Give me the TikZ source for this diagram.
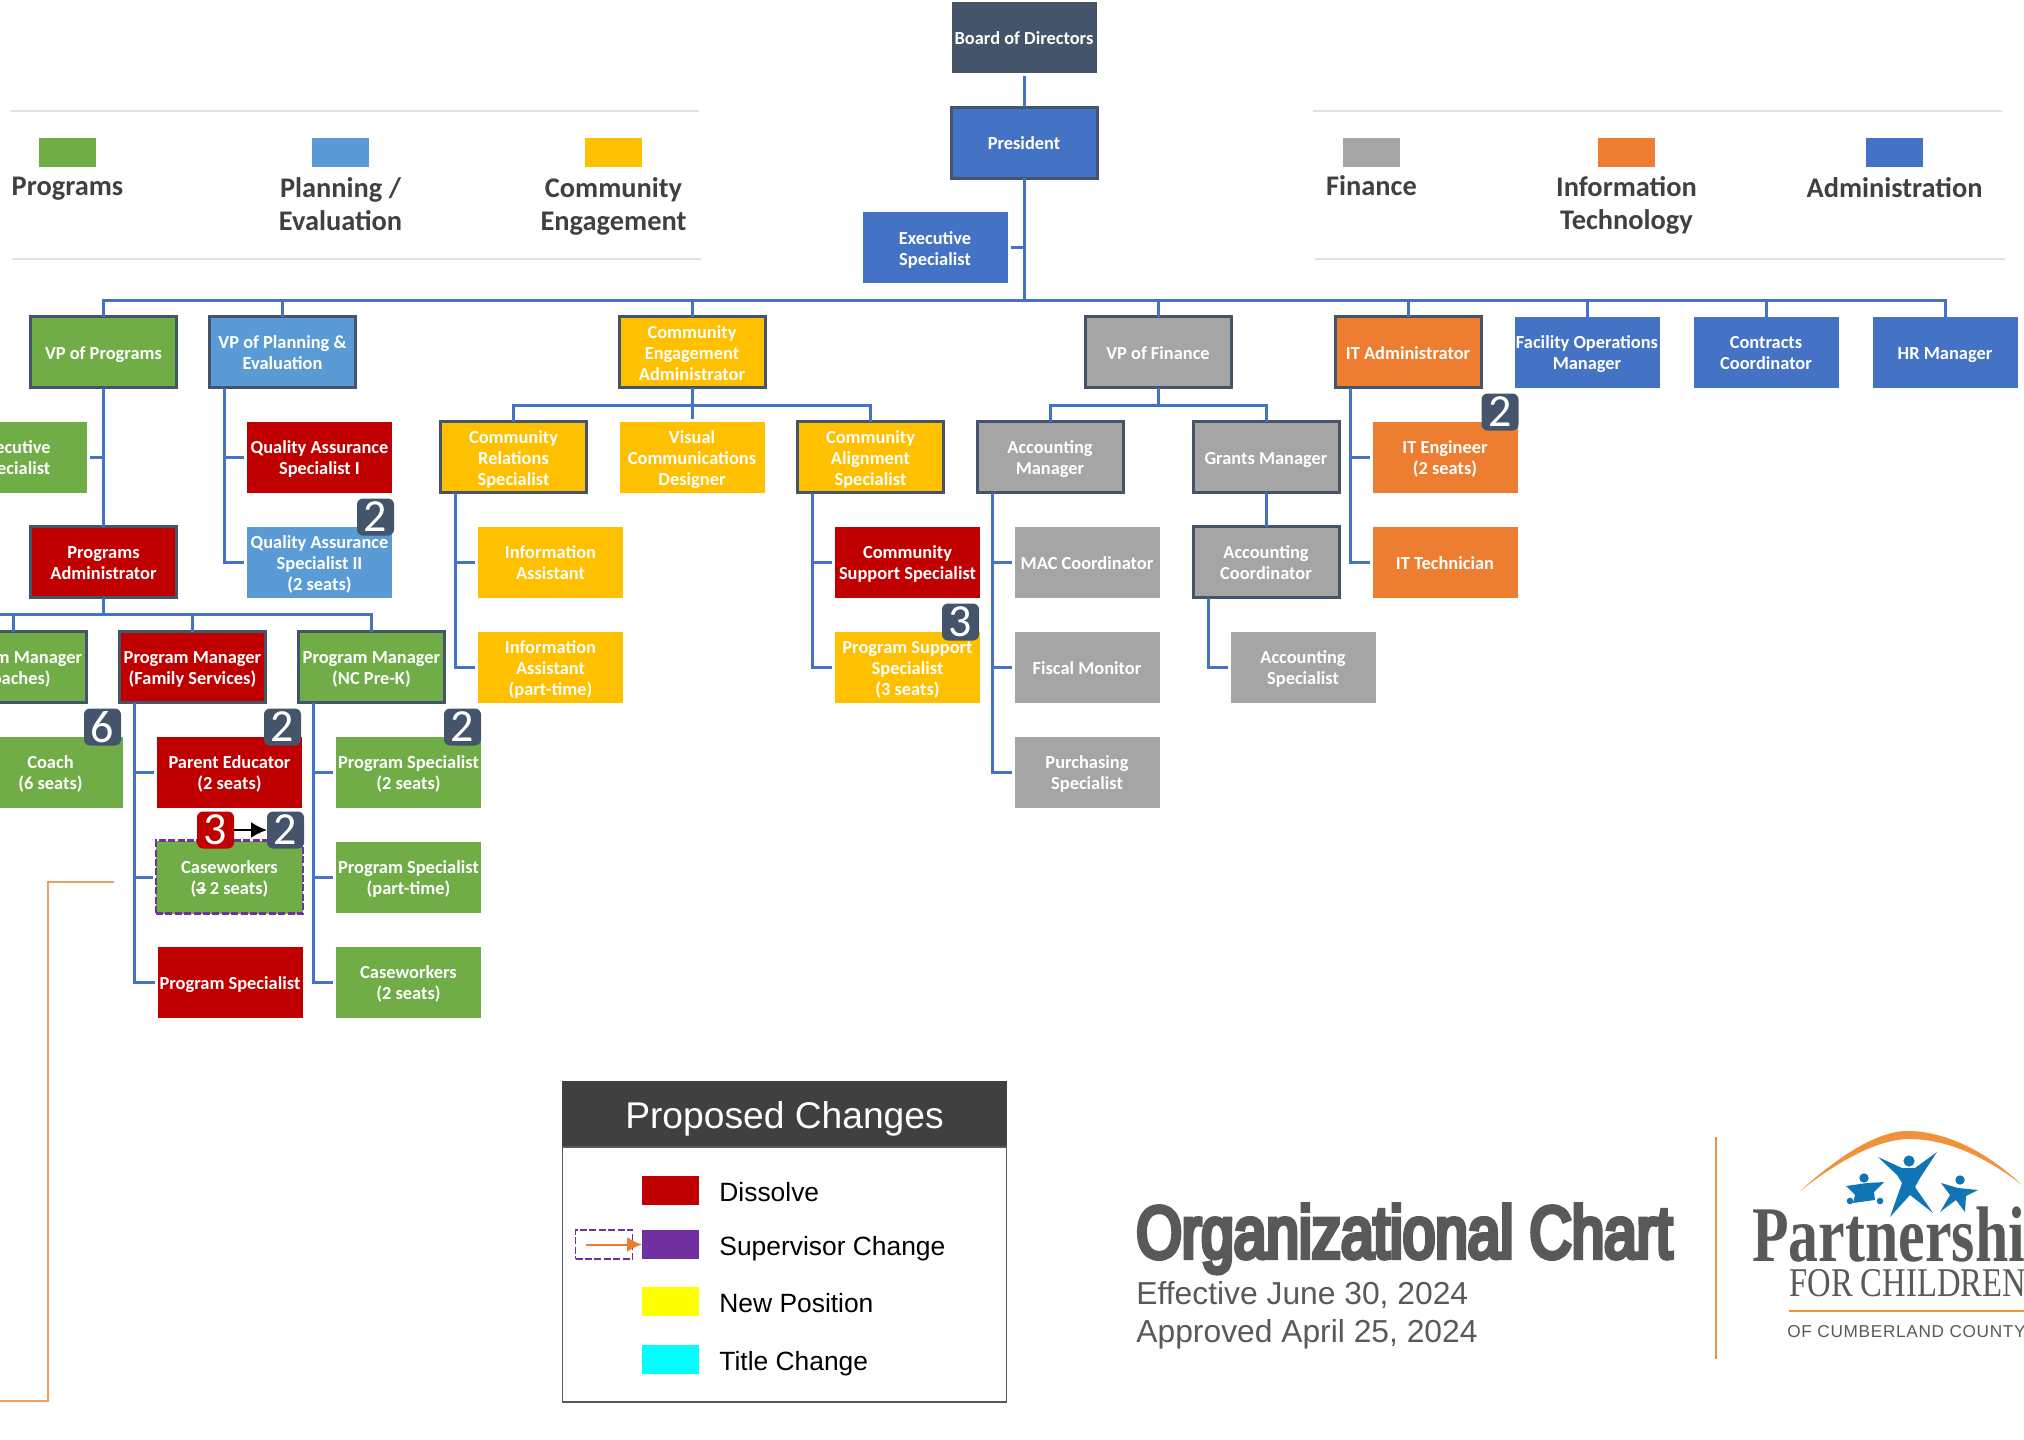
\documentclass[tikz,border=0pt]{standalone}
\usepackage{fontspec}
\setmainfont{Carlito}
\newfontfamily\arialfont{Liberation Sans}
\newfontfamily\heavyfont[FakeBold=6,FakeStretch=0.79]{Liberation Sans}
\newfontfamily\logofont{Liberation Serif}
\newfontfamily\countyfont[LetterSpace=4]{Liberation Sans}
\usetikzlibrary{positioning,arrows.meta}
\definecolor{progcol}{HTML}{70AD47}
\definecolor{plancol}{HTML}{5B9BD5}
\definecolor{comcol}{HTML}{FFC000}
\definecolor{fincol}{HTML}{A5A5A5}
\definecolor{techcol}{HTML}{ED7D31}
\definecolor{admincol}{HTML}{4472C4}
\definecolor{redcol}{HTML}{C00000}
\definecolor{slatecol}{HTML}{44546A}
\definecolor{purplecol}{HTML}{7030A0}
\definecolor{darkcol}{HTML}{404040}
\definecolor{greycol}{HTML}{595959}
\definecolor{rulecol}{HTML}{E2E2E2}
\definecolor{logoblue}{HTML}{0F75B5}
\definecolor{logoorange}{HTML}{F0923B}
\definecolor{keyyellowcol}{HTML}{FFFF00}
\definecolor{keycyancol}{HTML}{00FFFF}
\tikzstyle{box}=[rectangle,minimum width=72.5pt,minimum height=35.5pt,text width=72.5pt,inner sep=0pt,outer sep=0pt,align=flush center,text=white,font=\bfseries\fontsize{9.2}{10.5}\selectfont,execute at begin node={\rule{0pt}{10.6pt}},execute at end node=\strut]
\tikzstyle{progbox}=[box,fill=progcol]
\tikzstyle{planbox}=[box,fill=plancol]
\tikzstyle{combox}=[box,fill=comcol]
\tikzstyle{finbox}=[box,fill=fincol]
\tikzstyle{techbox}=[box,fill=techcol]
\tikzstyle{adminbox}=[box,fill=admincol]
\tikzstyle{redbox}=[box,fill=redcol]
\tikzstyle{lead}=[draw=slatecol,line width=1.5pt,minimum width=73pt,minimum height=35.5pt]
\tikzstyle{moved}=[draw=purplecol,line width=1.2pt,dash pattern=on 3.5pt off 1.2pt]
\tikzstyle{badge}=[rectangle,rounded corners=3pt,fill=slatecol,text=white,minimum size=18.5pt,inner sep=0pt,outer sep=0pt,anchor=south east,yshift=-4.5pt,font=\fontsize{23}{23}\selectfont]
\tikzstyle{link}=[draw=admincol,line width=1.5pt]
\tikzstyle{stub}=[link,shorten >=1.5pt]
\tikzstyle{swatch}=[rectangle,minimum width=28.5pt,minimum height=14.5pt,inner sep=0pt,outer sep=0pt]
\tikzstyle{cat}=[align=center,inner sep=0pt,text=darkcol,font=\bfseries\fontsize{14.2}{16.6}\selectfont]
\tikzstyle{keytext}=[inner sep=0pt,text=black,text height=14pt,text depth=2.6pt,font=\arialfont\fontsize{13.2}{16}\selectfont]
\def\rowdist{17pt}
\def\sibdist{16.5pt}
\def\childshift{18.5pt}
\def\colshift{89.25pt}
\begin{document}
\begin{tikzpicture}[x=0.5pt,y=-0.5pt]
	\path[use as bounding box,clip] (0,0) rectangle (2024,1440);

	% top of the chart
	\node[box,fill=slatecol] (board) at (1024,37.5) {Board of Directors};
	\node[adminbox,lead,below=\rowdist of board] (pres) {President};
	\node[adminbox,below=\rowdist of pres,xshift=-44.5pt] (execspec) {Executive\\Specialist};
	\coordinate (topbus) at (1024,300);

	% first level
	\node[progbox,lead] (vpprog) at (103.5,352) {VP of Programs};
	\node[planbox,lead,right=\sibdist of vpprog] (vpplan) {VP of Planning \&\\Evaluation};
	\node[combox,lead] (comadmin) at (692,352) {Community\\Engagement\\Administrator};
	\node[finbox,lead] (vpfin) at (1158,352) {VP of Finance};
	\node[techbox,lead] (itadmin) at (1408,352) {IT Administrator};
	\node[adminbox] (facility) at (1587,352) {Facility Operations\\Manager};
	\node[adminbox] (contracts) at (1766,352) {Contracts\\Coordinator};
	\node[adminbox] (hrmgr) at (1945,352) {HR Manager};

	% programs
	\node[progbox,below=\rowdist of vpprog,xshift=-44.5pt] (progexec) {Executive\\Specialist};
	\node[redbox,lead,below=\rowdist of progexec,xshift=44.5pt] (progadmin) {Programs\\Administrator};
	\node[redbox,lead,below=\rowdist of progadmin,xshift=44.5pt] (mgrfam) {Program Manager\\(Family Services)};
	\node[progbox,lead,left=\sibdist of mgrfam] (mgrcoach) {Program Manager\\(Coaches)};
	\node[progbox,lead,right=\sibdist of mgrfam] (mgrprek) {Program Manager\\(NC Pre-K)};
	\node[progbox,below=\rowdist of mgrcoach,xshift=\childshift] (coach) {Coach\\(6 seats)};
	\node[redbox,below=\rowdist of mgrfam,xshift=\childshift] (parented) {Parent Educator\\(2 seats)};
	\node[progbox,moved,below=\rowdist of parented,minimum width=73.5pt,minimum height=36.5pt,yshift=0.5pt] (casefam) {Caseworkers\\(\makebox[0pt][l]{\rule[0.22em]{0.5em}{0.09em}}3 2 seats)};
	\node[redbox] (specfam) at (230,982.5) {Program Specialist};
	\node[progbox,below=\rowdist of mgrprek,xshift=\childshift] (specprek) {Program Specialist\\(2 seats)};
	\node[progbox,below=\rowdist of specprek] (specpart) {Program Specialist\\(part-time)};
	\node[progbox,below=\rowdist of specpart] (caseprek) {Caseworkers\\(2 seats)};

	% planning
	\node[redbox,below=\rowdist of vpplan,xshift=\childshift] (qaone) {Quality Assurance\\Specialist I};
	\node[planbox,below=\rowdist of qaone] (qatwo) {Quality Assurance\\Specialist II\\(2 seats)};

	% community engagement
	\node[combox,lead,below=\rowdist of comadmin,xshift=-\colshift] (comrel) {Community\\Relations\\Specialist};
	\node[combox,below=\rowdist of comadmin] (visual) {Visual\\Communications\\Designer};
	\node[combox,lead,below=\rowdist of comadmin,xshift=\colshift] (comalign) {Community\\Alignment\\Specialist};
	\node[combox,below=\rowdist of comrel,xshift=\childshift] (infoa) {Information\\Assistant};
	\node[combox,below=\rowdist of infoa] (infob) {Information\\Assistant\\(part-time)};
	\node[redbox,below=\rowdist of comalign,xshift=\childshift] (comsup) {Community\\Support Specialist};
	\node[combox,below=\rowdist of comsup] (progsup) {Program Support\\Specialist\\(3 seats)};

	% finance
	\node[finbox,lead,below=\rowdist of vpfin,xshift=-54pt] (accmgr) {Accounting\\Manager};
	\node[finbox,lead,below=\rowdist of vpfin,xshift=54pt] (grants) {Grants Manager};
	\node[finbox,below=\rowdist of accmgr,xshift=\childshift] (mac) {MAC Coordinator};
	\node[finbox,below=\rowdist of mac] (fiscal) {Fiscal Monitor};
	\node[finbox,below=\rowdist of fiscal] (purchase) {Purchasing\\Specialist};
	\node[finbox,lead,below=\rowdist of grants] (acccoord) {Accounting\\Coordinator};
	\node[finbox,below=\rowdist of acccoord,xshift=\childshift] (accspec) {Accounting\\Specialist};

	% information technology
	\node[techbox,below=\rowdist of itadmin,xshift=\childshift] (iteng) {IT Engineer\\(2 seats)};
	\node[techbox,below=\rowdist of iteng] (ittech) {IT Technician};

	% seat counts
	\node[badge] (bcoach) at ([xshift=-1pt]coach.north east) {6};
	\node[badge] (bparent) at ([xshift=-0.5pt]parented.north east) {2};
	\node[badge] (bspec) at (specprek.north east) {2};
	\node[badge] (bqa) at ([xshift=1pt]qatwo.north east) {2};
	\node[badge] (biteng) at ([xshift=0.5pt]iteng.north east) {2};
	\node[badge] (bsup) at ([xshift=-0.5pt]progsup.north east) {3};
	\node[badge,yshift=0.5pt] (bnew) at ([xshift=0.5pt]casefam.north east) {2};
	\node[badge,fill=redcol,anchor=east,yshift=4.5pt,left=16.5pt of bnew] (bold) {3};

	% connections
	\draw[link,shorten <=1.5pt] (board) -- (pres);
	\draw[link] (pres) -- (topbus);
	\draw[link,shorten <=1.5pt] (execspec) -- (execspec -| pres);
	\foreach \n in {vpprog,vpplan,comadmin,vpfin,itadmin,facility,contracts,hrmgr}
		\draw[link] (topbus) -| (\n.north);

	\coordinate (progbus) at (103.5,614);
	\coordinate (progend) at (-20,614);
	\draw[link] (vpprog) -- (progadmin);
	\draw[link,shorten <=1.5pt] (progexec) -- (progexec -| vpprog);
	\draw[link] (progadmin) -- (progbus);
	\draw[link] (progbus) -- (progend);
	\foreach \n in {mgrcoach,mgrfam,mgrprek}
		\draw[link] (progbus) -| (\n.north);

	\foreach \n in {parented,casefam,specfam}
		\draw[stub] ([xshift=7.5pt]mgrfam.south west) |- (\n.west);
	\foreach \n in {specprek,specpart,caseprek}
		\draw[stub] ([xshift=7.5pt]mgrprek.south west) |- (\n.west);
	\foreach \n in {qaone,qatwo}
		\draw[stub] ([xshift=7.5pt]vpplan.south west) |- (\n.west);
	\foreach \n in {infoa,infob}
		\draw[stub] ([xshift=7.5pt]comrel.south west) |- (\n.west);
	\foreach \n in {comsup,progsup}
		\draw[stub] ([xshift=7.5pt]comalign.south west) |- (\n.west);
	\foreach \n in {mac,fiscal,purchase}
		\draw[stub] ([xshift=7.5pt]accmgr.south west) |- (\n.west);
	\draw[stub] ([xshift=7.5pt]acccoord.south west) |- (accspec.west);
	\foreach \n in {iteng,ittech}
		\draw[stub] ([xshift=7.5pt]itadmin.south west) |- (\n.west);

	\coordinate (combus) at (692,405);
	\draw[stub] (comadmin) -- (visual);
	\foreach \n in {comrel,comalign}
		\draw[link] (combus) -| (\n.north);
	\coordinate (finbus) at (1158,405);
	\draw[link] (vpfin) -- (finbus);
	\foreach \n in {accmgr,grants}
		\draw[link] (finbus) -| (\n.north);
	\draw[link] (grants) -- (acccoord);

	\draw[-{Latex[length=8pt,width=8pt]},line width=1pt] (bold) -- (bnew);

	% stray line
	\coordinate (strayfrom) at (114,882);
	\coordinate (straybend) at (48,882);
	\coordinate (straylow) at (48,1401);
	\coordinate (strayend) at (0,1401);
	\draw[techcol!75,line width=0.8pt] (strayfrom) -- (straybend) -- (straylow) -- (strayend);

	% department key
	\draw[rulecol,line width=1pt] (10,111) -- (699,111);
	\draw[rulecol,line width=1pt] (12,259) -- (701,259);
	\draw[rulecol,line width=1pt] (1313,111) -- (2002,111);
	\draw[rulecol,line width=1pt] (1315,259) -- (2005,259);
	\node[swatch,fill=progcol] (catprog) at (67.5,152.5) {};
	\node[swatch,fill=plancol] (catplan) at (340.5,152.5) {};
	\node[swatch,fill=comcol] (catcom) at (613.5,152.5) {};
	\node[swatch,fill=fincol] (catfin) at (1371.5,152.5) {};
	\node[swatch,fill=techcol] (cattech) at (1626.5,152.5) {};
	\node[swatch,fill=admincol] (catadmin) at (1894.5,152.5) {};
	\node[cat,below=5pt of catprog] (lblprog) {Programs};
	\node[cat,below=5pt of catplan] (lblplan) {Planning /\\Evaluation};
	\node[cat,below=5pt of catcom] (lblcom) {Community\\Engagement};
	\node[cat,below=4pt of catfin] (lblfin) {Finance};
	\node[cat,below=4.5pt of cattech] (lbltech) {Information\\Technology};
	\node[cat,below=5pt of catadmin] (lbladmin) {Administration};

	% proposed changes
	\node[rectangle,fill=darkcol,draw=darkcol,minimum width=222pt,minimum height=33pt,inner sep=0pt,outer sep=0pt,text=white,text height=18pt,font=\arialfont\fontsize{18.6}{20}\selectfont] (keyhead) at (784.5,1114) {Proposed Changes};
	\node[rectangle,draw=greycol,line width=0.8pt,minimum width=222pt,minimum height=127.5pt,inner sep=0pt,outer sep=0pt,below=0pt of keyhead] (keybody) {};
	\node[swatch,fill=redcol] (keyred) at (670.5,1190.5) {};
	\node[swatch,fill=purplecol] (keypurple) at (670.5,1244.5) {};
	\node[swatch,fill=keyyellowcol] (keyyellow) at (670.5,1301.5) {};
	\node[swatch,fill=keycyancol] (keycyan) at (670.5,1359.5) {};
	\node[keytext,right=10pt of keyred] (txtred) {Dissolve};
	\node[keytext,right=10pt of keypurple] (txtpurple) {Supervisor Change};
	\node[keytext,right=10pt of keyyellow] (txtyellow) {New Position};
	\node[keytext,right=10pt of keycyan] (txtcyan) {Title Change};
	\node[rectangle,moved,line width=0.8pt,minimum width=28.5pt,minimum height=14.5pt,inner sep=0pt,outer sep=0pt] (keydash) at (604,1244.5) {};
	\draw[techcol,line width=1pt,-{Latex[length=7.5pt,width=7.5pt]}] ([xshift=5pt]keydash.west) -- (keypurple.west);

	% title
	\node[anchor=base west,inner sep=0pt,text=greycol,font=\heavyfont\fontsize{37}{40}\selectfont] (title) at (1136,1258) {Organizational Chart};
	\node[anchor=base west,inner sep=0pt,text=greycol,font=\arialfont\fontsize{15.9}{18}\selectfont] (effective) at (1136,1304) {Effective June 30, 2024};
	\node[anchor=base west,inner sep=0pt,text=greycol,font=\arialfont\fontsize{15.9}{18}\selectfont] (approved) at (1136,1342) {Approved April 25, 2024};
	\draw[logoorange,line width=0.6pt] (1716,1137) -- (1716,1359);

	% logo
	\fill[logoorange] (1800,1191) .. controls (1850,1146) and (1885,1130) .. (1910,1131) .. controls (1945,1132) and (1985,1150) .. (2022,1185) .. controls (1985,1156) and (1945,1139) .. (1910,1139) .. controls (1885,1139) and (1850,1152) .. (1800,1191) -- cycle;
	\fill[logoblue] (1909,1161) circle (5.6);
	\fill[logoblue] (1878,1157) -- (1902,1168) -- (1915,1168) -- (1937,1152) -- (1920,1178) -- (1915,1187) -- (1933,1213) -- (1910,1195) -- (1890,1217) -- (1902,1183) -- (1897,1175) -- cycle;
	\fill[logoblue] (1864,1178) circle (4.7);
	\fill[logoblue] (1846,1186) -- (1867,1183) -- (1884,1182) -- (1874,1192) -- (1875,1200) -- (1853,1203) -- (1855,1195) -- cycle;
	\fill[logoblue] (1850,1201) circle (3.3);
	\fill[logoblue] (1880,1201) circle (3.3);
	\fill[logoblue] (1960,1180) circle (4.7);
	\fill[logoblue] (1941,1183) -- (1958,1188) -- (1978,1190) -- (1966,1196) -- (1965,1212) -- (1956,1200) -- (1940,1212) -- (1950,1195) -- cycle;
	\node[anchor=base west,inner sep=0pt,text=greycol,xscale=0.76,font=\logofont\bfseries\fontsize{39.4}{40}\selectfont] (logoname) at (1752,1261) {Partnership};
	\node[anchor=base west,inner sep=0pt,text=greycol,xscale=0.8,font=\logofont\fontsize{20.4}{22}\selectfont] (logofor) at (1789,1296) {FOR CHILDREN};
	\draw[logoorange,line width=0.6pt] (1789,1311) -- (2024,1311);
	\node[anchor=base west,inner sep=0pt,text=greycol,font=\countyfont\fontsize{8.6}{10}\selectfont] (logoplace) at (1787,1337) {OF CUMBERLAND COUNTY};
\end{tikzpicture}
\end{document}
